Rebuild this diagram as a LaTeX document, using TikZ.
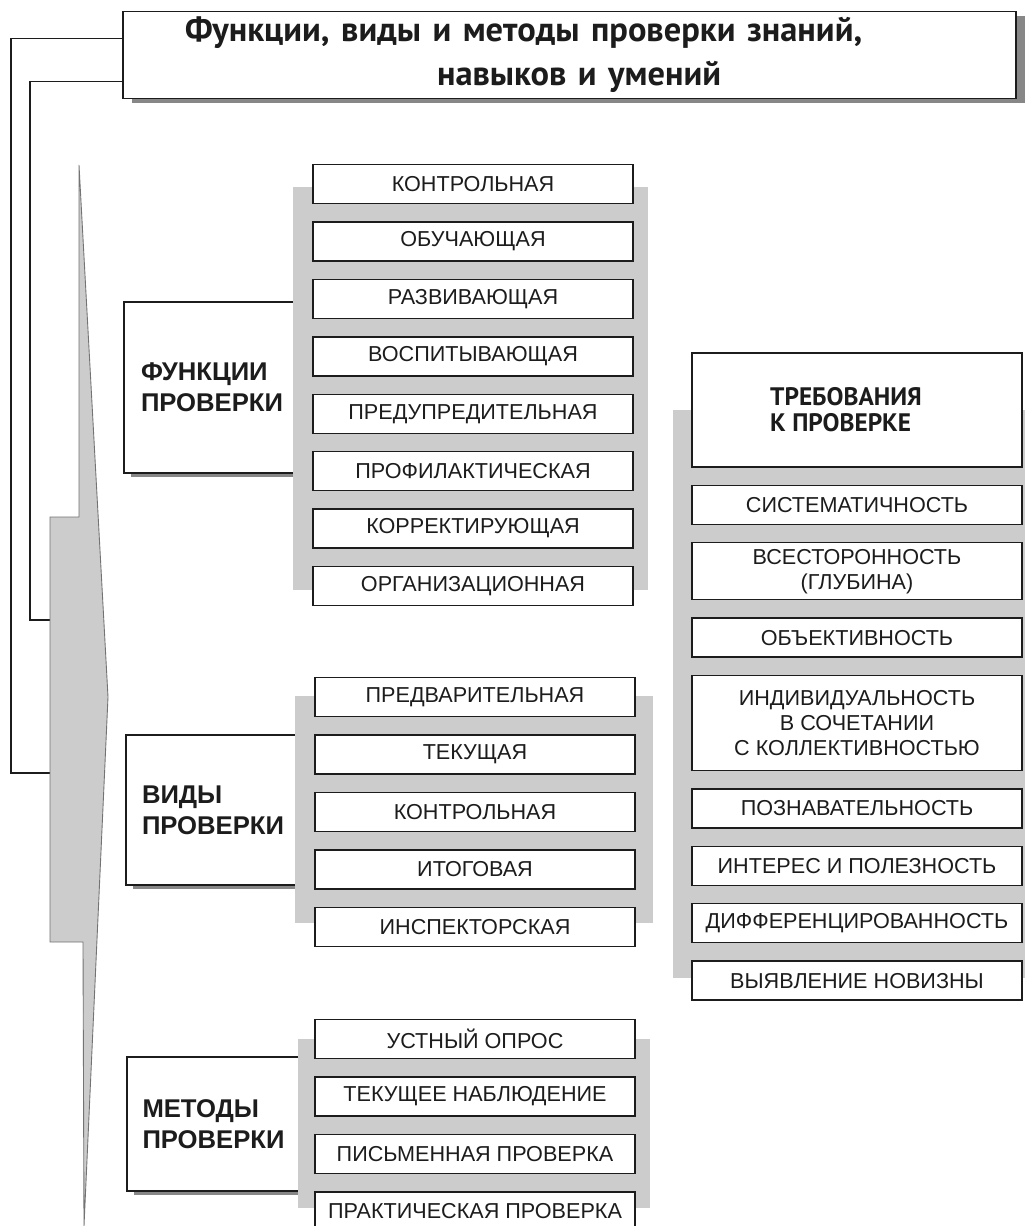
\documentclass[tikz,border=0pt]{standalone}
\usepackage{fontspec}
\setmainfont{Liberation Sans}
\newfontfamily\headfont{PT Sans}
\usetikzlibrary{positioning,calc,shadows}
\definecolor{BackGray}{RGB}{204,204,204}
\definecolor{ShadowGray}{RGB}{135,135,135}
\definecolor{InkBlack}{RGB}{28,28,28}
\tikzset{
  titlebox/.style={draw=InkBlack,line width=0.8pt,fill=white,text=InkBlack,
    minimum width=17.86cm,minimum height=1.72cm,text width=17.86cm,
    inner xsep=0pt,align=left,font=\headfont\bfseries\fontsize{19.6}{25}\selectfont,
    drop shadow={shadow xshift=5pt,shadow yshift=-2.5pt,fill=ShadowGray,opacity=1}},
  groupbox/.style={draw=InkBlack,line width=0.8pt,fill=white,text=InkBlack,
    align=left,font=\fontsize{14.6}{17.6}\selectfont\bfseries,
    drop shadow={shadow xshift=4pt,shadow yshift=-2.5pt,fill=ShadowGray,opacity=1}},
  itembox/.style={draw=InkBlack,line width=0.8pt,fill=white,text=InkBlack,
    minimum width=6.4cm,minimum height=0.78cm,inner sep=1pt,align=center,
    font=\fontsize{12.3}{14.2}\selectfont},
  needbox/.style={itembox,minimum width=6.6cm},
  backdrop/.style={fill=BackGray},
  spine/.style={fill=BackGray,draw=black!55,line width=0.5pt},
  link/.style={draw=InkBlack,line width=0.8pt},
}

\begin{document}
\begin{tikzpicture}[x=0.02cm,y=-0.02cm,node distance=0.34cm]
  \useasboundingbox[fill=white] (0,0) rectangle (1029,1226);

  % title and the two lines to the spine
  \node[titlebox] (title) at (569.5,55)
    {\hspace*{1.24cm}Функции, виды и методы проверки знаний,\\
     \hspace*{6.28cm}навыков и умений};
  \coordinate (spineA) at (50,620);
  \coordinate (spineB) at (50,773);
  \draw[link] ($(title.north west)+(0,28)$) -| (11,773) -- (spineB);
  \draw[link] ($(title.south west)+(0,-18)$) -| (30,620) -- (spineA);
  \path[spine] (79,165) -- (79,517) -- (50,517) -- (50,942) -- (83,942)
    -- (84,1226) -- (108,697) -- cycle;

  % groups
  \node[groupbox,minimum width=3.52cm,minimum height=3.42cm] (funcs) at (212,387.5)
    {ФУНКЦИИ\\ПРОВЕРКИ};
  \node[groupbox,minimum width=3.48cm,minimum height=3.0cm] (kinds) at (213,810)
    {ВИДЫ\\ПРОВЕРКИ};
  \node[groupbox,minimum width=3.46cm,minimum height=2.68cm] (ways) at (213.5,1124)
    {МЕТОДЫ\\ПРОВЕРКИ};

  % grey backdrops
  \fill[backdrop] (293,187) rectangle (648,590);
  \fill[backdrop] (295,696) rectangle (653,923);
  \fill[backdrop] (298,1039) rectangle (650,1208);
  \fill[backdrop] (673,410) rectangle (1025,978);

  % functions
  \node[itembox,anchor=north] (f1) at (473,164) {КОНТРОЛЬНАЯ};
  \node[itembox,below=of f1] (f2) {ОБУЧАЮЩАЯ};
  \node[itembox,below=of f2] (f3) {РАЗВИВАЮЩАЯ};
  \node[itembox,below=of f3] (f4) {ВОСПИТЫВАЮЩАЯ};
  \node[itembox,below=of f4] (f5) {ПРЕДУПРЕДИТЕЛЬНАЯ};
  \node[itembox,below=of f5] (f6) {ПРОФИЛАКТИЧЕСКАЯ};
  \node[itembox,below=of f6] (f7) {КОРРЕКТИРУЮЩАЯ};
  \node[itembox,below=of f7] (f8) {ОРГАНИЗАЦИОННАЯ};

  % kinds
  \node[itembox,anchor=north] (k1) at (475,677) {ПРЕДВАРИТЕЛЬНАЯ};
  \node[itembox,below=of k1] (k2) {ТЕКУЩАЯ};
  \node[itembox,below=of k2] (k3) {КОНТРОЛЬНАЯ};
  \node[itembox,below=of k3] (k4) {ИТОГОВАЯ};
  \node[itembox,below=of k4] (k5) {ИНСПЕКТОРСКАЯ};

  % methods
  \node[itembox,anchor=north] (m1) at (475,1019) {УСТНЫЙ ОПРОС};
  \node[itembox,below=of m1] (m2) {ТЕКУЩЕЕ НАБЛЮДЕНИЕ};
  \node[itembox,below=of m2] (m3) {ПИСЬМЕННАЯ ПРОВЕРКА};
  \node[itembox,below=of m3] (m4) {ПРАКТИЧЕСКАЯ ПРОВЕРКА};

  % requirements
  \node[needbox,minimum height=2.28cm,align=left,
        font=\headfont\bfseries\fontsize{14.4}{14.8}\selectfont] (needs) at (857,410)
    {ТРЕБОВАНИЯ\hspace*{0.44cm}\\К ПРОВЕРКЕ};
  \node[needbox,below=of needs] (r1) {СИСТЕМАТИЧНОСТЬ};
  \node[needbox,below=of r1,minimum height=1.14cm] (r2) {ВСЕСТОРОННОСТЬ\\(ГЛУБИНА)};
  \node[needbox,below=of r2] (r3) {ОБЪЕКТИВНОСТЬ};
  \node[needbox,below=of r3,minimum height=1.9cm] (r4)
    {ИНДИВИДУАЛЬНОСТЬ\\В СОЧЕТАНИИ\\С КОЛЛЕКТИВНОСТЬЮ};
  \node[needbox,below=of r4] (r5) {ПОЗНАВАТЕЛЬНОСТЬ};
  \node[needbox,below=of r5] (r6) {ИНТЕРЕС И ПОЛЕЗНОСТЬ};
  \node[needbox,below=of r6] (r7) {ДИФФЕРЕНЦИРОВАННОСТЬ};
  \node[needbox,below=of r7] (r8) {ВЫЯВЛЕНИЕ НОВИЗНЫ};
\end{tikzpicture}
\end{document}
